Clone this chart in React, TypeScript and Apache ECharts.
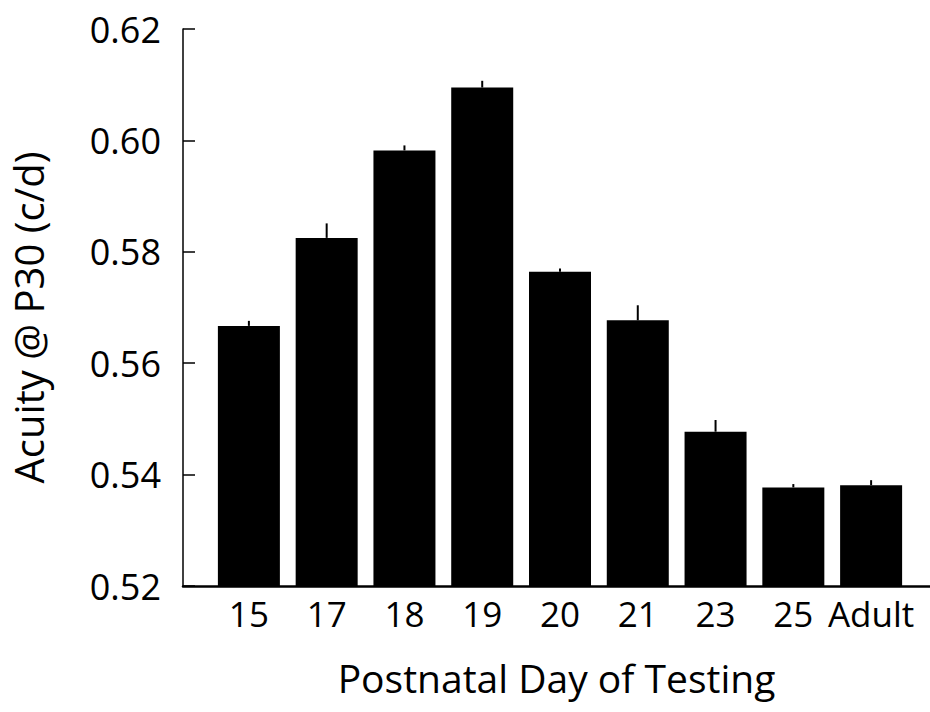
import React, { useEffect, useRef } from "react";
import * as echarts from "echarts";

const categories = ["15", "17", "18", "19", "20", "21", "23", "25", "Adult"];
const acuity = [0.5667, 0.5825, 0.5982, 0.6095, 0.5764, 0.5677, 0.5477, 0.5377, 0.5381];
const acuityErr = [0.0009, 0.0026, 0.0009, 0.0012, 0.0006, 0.0027, 0.0021, 0.0006, 0.0009];
const yTicks = [0.52, 0.54, 0.56, 0.58, 0.6, 0.62];

const FONT = "'Open Sans', 'Noto Sans', sans-serif";

export default function App() {
  const ref = useRef<HTMLDivElement>(null);
  useEffect(() => {
    if (!ref.current) return;
    const chart = echarts.init(ref.current, undefined, { renderer: "svg" });
    const yMin = yTicks[0];
    const yMax = yTicks[yTicks.length - 1];
    const step = yTicks[1] - yTicks[0];
    chart.setOption({
      animation: false,
      backgroundColor: "#ffffff",
      grid: [
        { left: 180, right: 0, top: 29, bottom: 126 },
        { left: 210, width: 700, top: 29, bottom: 126 },
      ],
      xAxis: [
        {
          type: "value",
          gridIndex: 0,
          min: 0,
          max: 1,
          axisLine: { show: true, lineStyle: { color: "#000", width: 2.5 } },
          axisTick: { show: false },
          axisLabel: { show: false },
          splitLine: { show: false },
          name: "Postnatal Day of Testing",
          nameLocation: "middle",
          nameGap: 72,
          nameTextStyle: { fontFamily: FONT, fontSize: 39, color: "#000" },
        },
        {
          type: "category",
          gridIndex: 1,
          data: categories,
          axisLine: { show: false },
          axisTick: { show: false },
          axisLabel: { fontFamily: FONT, fontSize: 35, color: "#000", margin: 10, interval: 0 },
          splitLine: { show: false },
        },
      ],
      yAxis: [
        {
          type: "value",
          gridIndex: 0,
          min: yMin,
          max: yMax,
          interval: step,
          axisLine: { show: true, lineStyle: { color: "#000", width: 1.5 } },
          axisTick: { show: true, inside: true, length: 12, lineStyle: { color: "#000", width: 1.5 } },
          axisLabel: {
            fontFamily: FONT,
            fontSize: 36,
            color: "#000",
            margin: 22,
            formatter: (v: number) => v.toFixed(2),
          },
          splitLine: { show: false },
          name: "Acuity @ P30 (c/d)",
          nameLocation: "middle",
          nameGap: 135,
          nameTextStyle: { fontFamily: FONT, fontSize: 40, color: "#000", padding: [0, 20, 0, 0] },
        },
        {
          type: "value",
          gridIndex: 1,
          min: yMin,
          max: yMax,
          interval: step,
          show: false,
        },
      ],
      series: [
        {
          type: "bar",
          xAxisIndex: 1,
          yAxisIndex: 1,
          data: acuity,
          barWidth: 62,
          itemStyle: { color: "#000" },
        },
        {
          type: "custom",
          xAxisIndex: 1,
          yAxisIndex: 1,
          data: acuity.map((v, i) => [i, v, v + acuityErr[i]]),
          renderItem: (params: any, api: any) => {
            const x = api.value(0);
            const p1 = api.coord([x, api.value(1)]);
            const p2 = api.coord([x, api.value(2)]);
            return {
              type: "line",
              shape: { x1: p1[0], y1: p1[1], x2: p2[0], y2: p2[1] },
              style: { stroke: "#000", lineWidth: 2 },
            };
          },
          z: 3,
        },
      ],
    });
    return () => chart.dispose();
  }, []);
  return (
    <div
      ref={ref}
      style={{ position: "fixed", left: 0, top: 0, width: 930, height: 712, background: "#fff" }}
    />
  );
}
